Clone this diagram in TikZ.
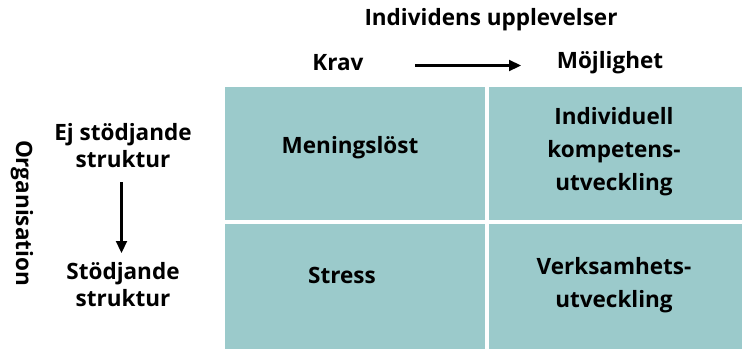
\documentclass[tikz,border=0pt]{standalone}
\usepackage{fontspec}
\setmainfont{Open Sans}
\usetikzlibrary{arrows.meta}
\definecolor{cellteal}{RGB}{155,202,203}
\begin{document}
\begin{tikzpicture}[x=1pt,y=-1pt,
  lbl/.style={font=\bfseries\fontsize{22.5}{33}\selectfont,align=center,inner sep=0pt},
  side/.style={font=\bfseries\fontsize{22.5}{27}\selectfont,align=center,inner sep=0pt},
  arr/.style={-{Triangle[length=12pt,width=11pt]},line width=2.2pt}]
\useasboundingbox (0,0) rectangle (742,349);
\fill[cellteal] (225,87) rectangle (485,220);
\fill[cellteal] (489,87) rectangle (742,220);
\fill[cellteal] (225,224) rectangle (485,349);
\fill[cellteal] (489,224) rectangle (742,349);
\node[lbl] (title) at (491,20) {Individens upplevelser};
\node[lbl] (krav) at (338,63) {Krav};
\node[lbl] (moj) at (610,63) {Möjlighet};
\coordinate (a1) at (415,65.5);
\coordinate (a2) at (521,65.5);
\draw[arr] (a1) -- (a2);
\node[lbl,rotate=-90] (org) at (22,213) {Organisation};
\node[side] (ej) at (123,146) {Ej stödjande\\struktur};
\node[side] (st) at (123,285) {Stödjande\\struktur};
\coordinate (b1) at (121.5,182);
\coordinate (b2) at (121.5,253);
\draw[arr] (b1) -- (b2);
\node[lbl] (men) at (350,148) {Meningslöst};
\node[lbl] (ind) at (614,152) {Individuell\\kompetens-\\utveckling};
\node[lbl] (str) at (342,275) {Stress};
\node[lbl] (verk) at (614,285) {Verksamhets-\\utveckling};
\end{tikzpicture}
\end{document}
